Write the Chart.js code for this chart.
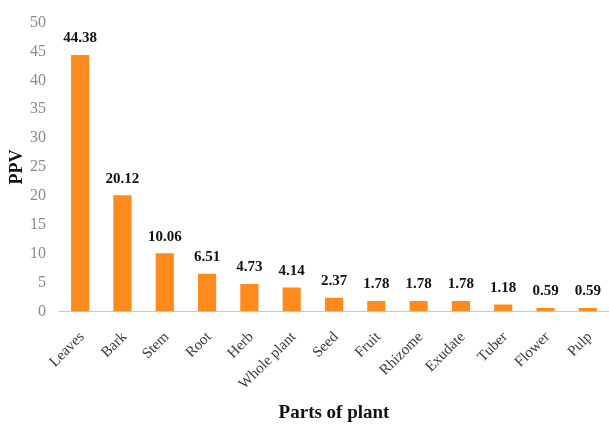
<!DOCTYPE html>
<html>
<head>
<meta charset="utf-8">
<script src="https://cdn.jsdelivr.net/npm/chart.js@4.4.0/dist/chart.umd.min.js"></script>
<style>
  html, body { margin: 0; padding: 0; background: #fff; }
  #wrap { width: 609px; height: 427px; }
</style>
</head>
<body>
<div id="wrap"><canvas id="ppvChart"></canvas></div>
<script>
// Parts of plant and their PPV values
const parts = [
    "Leaves", "Bark", "Stem", "Root", "Herb", "Whole plant", "Seed",
    "Fruit", "Rhizome", "Exudate", "Tuber", "Flower", "Pulp"
];

const ppv = [44.38, 20.12, 10.06, 6.51, 4.73, 4.14, 2.37, 1.78, 1.78, 1.78, 1.18, 0.59, 0.59];

const yTicks = [0, 5, 10, 15, 20, 25, 30, 35, 40, 45, 50];

const serif = '"Liberation Serif", "Times New Roman", serif';

// Draw the value above each bar
const valueLabels = {
    id: 'valueLabels',
    afterDatasetsDraw(chart) {
        const ctx = chart.ctx;
        const meta = chart.getDatasetMeta(0);
        ctx.save();
        ctx.font = 'bold 15px ' + serif;
        ctx.fillStyle = '#111';
        ctx.textAlign = 'center';
        ctx.textBaseline = 'bottom';
        meta.data.forEach((bar, i) => {
            ctx.fillText(ppv[i].toFixed(2), bar.x, bar.y - 9);
        });
        ctx.restore();
    }
};

const ctx = document.getElementById('ppvChart').getContext('2d');

new Chart(ctx, {
    type: 'bar',
    data: {
        labels: parts,
        datasets: [{
            data: ppv,
            backgroundColor: '#FF8A1E',
            barPercentage: 0.43,
            categoryPercentage: 1
        }]
    },
    options: {
        responsive: true,
        maintainAspectRatio: false,
        animation: false,
        plugins: {
            legend: { display: false },
            tooltip: { enabled: false }
        },
        layout: {
            padding: { left: 7, right: 0, top: 10, bottom: 3 }
        },
        scales: {
            x: {
                grid: { display: false, drawTicks: false },
                border: { color: '#c8c8c8', width: 1 },
                // rotated labels should not push the plot area inwards
                afterFit(scale) {
                    scale.paddingLeft = 0;
                    scale.paddingRight = 0;
                    scale.height -= 11;
                },
                ticks: {
                    minRotation: 45,
                    maxRotation: 45,
                    padding: 17,
                    labelOffset: 2,
                    color: '#3a3a3a',
                    font: { family: serif, size: 15 }
                },
                title: {
                    display: true,
                    text: 'Parts of plant',
                    color: '#111',
                    padding: { top: 2, bottom: 0 },
                    font: { family: serif, size: 19, weight: 'bold' }
                }
            },
            y: {
                min: 0,
                max: 50,
                afterBuildTicks(axis) {
                    axis.ticks = yTicks.map(v => ({ value: v }));
                },
                afterFit(scale) {
                    scale.width = 52;
                },
                grid: { display: false, drawTicks: false },
                border: { display: false },
                ticks: {
                    padding: 13,
                    color: '#8a8a8a',
                    font: { family: serif, size: 16 }
                },
                title: {
                    display: true,
                    text: 'PPV',
                    color: '#111',
                    padding: { top: 0, bottom: 6 },
                    font: { family: serif, size: 18, weight: 'bold' }
                }
            }
        }
    },
    plugins: [valueLabels]
});
</script>
</body>
</html>
